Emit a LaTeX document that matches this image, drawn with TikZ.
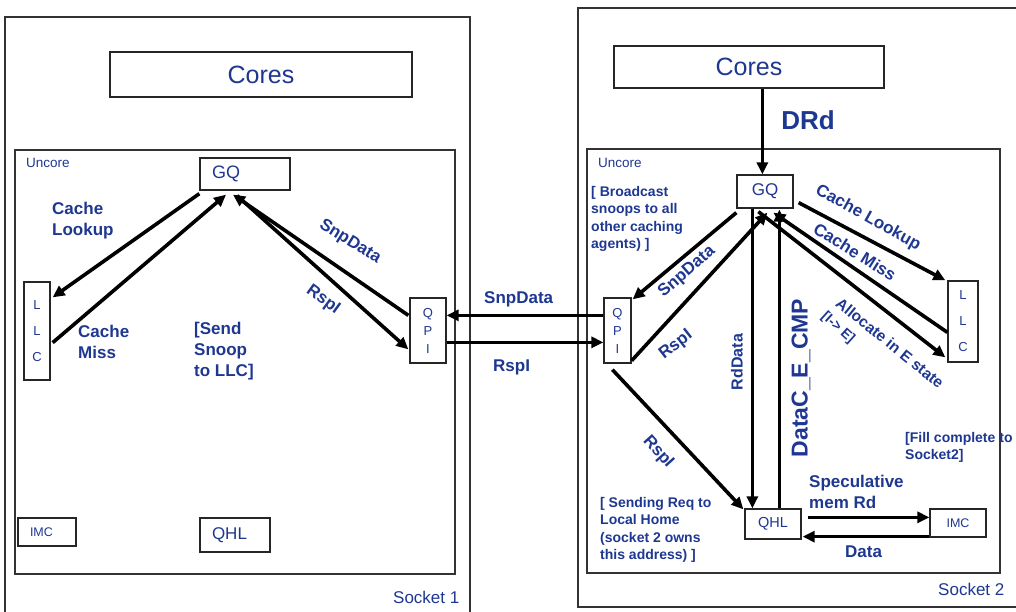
\documentclass[tikz,border=0pt]{standalone}
\usepackage{fontspec}
\setmainfont{Liberation Sans}
\usetikzlibrary{arrows.meta,calc}
\definecolor{lblue}{RGB}{30,55,145}
\begin{document}
\begin{tikzpicture}[x=1pt,y=-1pt,
  box/.style={draw=black!85, line width=1.3pt, fill=white, inner sep=0pt, text=lblue},
  region/.style={draw=black!80, line width=1.3pt},
  lab/.style={text=lblue, font=\fontsize{17}{21}\selectfont\bfseries, inner sep=0pt, align=left},
  note/.style={text=lblue, font=\fontsize{14}{17.5}\selectfont\bfseries, inner sep=0pt, align=left},
  plain/.style={text=lblue, inner sep=0pt},
  flow/.style={line width=3.6pt, -{Triangle[length=12pt,width=11pt]}},
  line/.style={line width=3.6pt}
]
\useasboundingbox (0,0) rectangle (1016,612);
% ---------- Socket 1 ----------
\draw[region] (5,640) -- (5,17) -- (470,17) -- (470,640);
\draw[region] (15,150) rectangle (455,574);
\node[box, minimum width=302pt, minimum height=45pt, font=\fontsize{25}{28}\selectfont] (cores1) at (261,74.5) {Cores};
\node[box, minimum width=90pt, minimum height=32pt, text width=66pt, align=left, font=\fontsize{18}{20}\selectfont] (gq1) at (245,174) {GQ};
\node[box, minimum width=26pt, minimum height=98pt, align=center, font=\fontsize{13}{26}\selectfont] (llc1) at (37,331) {L\\L\\C};
\node[box, minimum width=36pt, minimum height=65pt, align=center, font=\fontsize{13}{18}\selectfont] (qpi1) at (428,330.5) {Q\\P\\I};
\node[box, minimum width=58pt, minimum height=28pt, text width=34pt, align=left, font=\fontsize{12.5}{14}\selectfont] (imc1) at (47,532) {IMC};
\node[box, minimum width=70pt, minimum height=34pt, text width=46pt, align=left, font=\fontsize{17}{19}\selectfont] (qhl1) at (235,535) {QHL};
\node[plain, anchor=north west, font=\fontsize{13.5}{16}\selectfont] (unc1) at (26,158) {Uncore};
\node[plain, anchor=north west, font=\fontsize{17}{20}\selectfont] (sock1) at (393,591) {Socket 1};

% ---------- Socket 2 ----------
\draw[region] (1030,8) -- (578,8) -- (578,607) -- (1030,607);
\draw[region] (587,149) rectangle (1000,573);
\node[box, minimum width=270pt, minimum height=42pt, font=\fontsize{25}{28}\selectfont] (cores2) at (749,67) {Cores};
\node[box, minimum width=56pt, minimum height=33pt, font=\fontsize{17}{19}\selectfont] (gq2) at (765,191.5) {GQ};
\node[box, minimum width=27pt, minimum height=65pt, align=center, font=\fontsize{13}{18}\selectfont] (qpi2) at (617.5,330.5) {Q\\P\\I};
\node[box, minimum width=30pt, minimum height=81pt, align=center, font=\fontsize{13}{26}\selectfont] (llc2) at (963,321.5) {L\\L\\C};
\node[box, minimum width=56pt, minimum height=30pt, font=\fontsize{14.5}{16}\selectfont] (qhl2) at (773,524) {QHL};
\node[box, minimum width=56pt, minimum height=28pt, font=\fontsize{12.5}{14}\selectfont] (imc2) at (958,523) {IMC};
\node[plain, anchor=north west, font=\fontsize{13.5}{16}\selectfont] (unc2) at (598,158) {Uncore};
\node[plain, anchor=north west, font=\fontsize{17}{20}\selectfont] (sock2) at (938,583) {Socket 2};

% ---------- Socket 1 arrows ----------
\draw[flow] ($(gq1.south west)+(0,3)$) -- ($(llc1.north east)+(2,16)$);
\draw[flow] ($(llc1.south east)+(2,-38)$) -- ($(gq1.south)+(-19,4)$);
\draw[flow] ($(qpi1.north west)+(-1,18)$) -- ($(gq1.south)+(-12,4)$);
\draw[flow] ($(gq1.south)+(-8,5)$) -- ($(qpi1.north west)+(-1,52)$);

% ---------- Link arrows ----------
\draw[flow] ($(qpi2.north west)+(0,18)$) -- ($(qpi1.north east)+(0,18)$);
\draw[flow] ($(qpi1.north east)+(0,45)$) -- ($(qpi2.north west)+(0,45)$);

% ---------- Socket 2 arrows ----------
\draw[flow] ($(cores2.south west)+(149,0)$) -- ($(gq2.north west)+(26,0)$);
\draw[flow] ($(gq2.south west)+(0,4)$) -- ($(qpi2.north east)+(1,2)$);
\draw[flow] ($(qpi2.south east)+(0,-3)$) -- ($(gq2.south west)+(31,4)$);
\draw[flow] ($(gq2.south west)+(16,0)$) -- ($(qhl2.north west)+(8,0)$);
\draw[flow] ($(qhl2.north west)+(35,0)$) -- ($(gq2.south west)+(43,1)$);
\draw[flow] ($(gq2.south east)+(5,-6)$) -- ($(llc2.north west)+(-2,0)$);
\draw[flow] ($(llc2.north west)+(0,52)$) -- ($(gq2.south west)+(37,4)$);
\draw[flow] ($(gq2.south west)+(22,3)$) -- ($(llc2.north west)+(-2,77)$);
\draw[flow] ($(qpi2.south west)+(9,6)$) -- ($(qhl2.north west)+(-1,1)$);
\draw[flow] ($(qhl2.north east)+(6,9)$) -- ($(imc2.north west)+(0,9)$);
\draw[flow] ($(imc2.south west)+(0,-1)$) -- ($(qhl2.south east)+(1,-3)$);

% ---------- Socket 1 labels ----------
\node[lab, anchor=north west] (l1) at (52,202) {Cache\\Lookup};
\node[lab, anchor=north west] (l2) at (78,325) {Cache\\Miss};
\node[lab, anchor=north west] (l3) at (194,322) {[Send\\Snoop\\to LLC]};
\node[lab, rotate=-32] (l4) at (350,242) {SnpData};
\node[lab, rotate=-36] (l5) at (323,300) {RspI};

% ---------- Link labels ----------
\node[lab, anchor=north west] (l6) at (484,291) {SnpData};
\node[lab, anchor=north west] (l7) at (493,360) {RspI};

% ---------- Socket 2 labels ----------
\node[lab, font=\fontsize{26}{30}\selectfont\bfseries] (drd) at (808,120) {DRd};
\node[note, anchor=north west] (n1) at (591,186) {[ Broadcast\\snoops to all\\other caching\\agents) ]};
\node[lab, rotate=41] (l8) at (687,272) {SnpData};
\node[lab, rotate=38] (l9) at (676,345) {RspI};
\node[lab, rotate=90, font=\fontsize{16}{18}\selectfont\bfseries] (l10) at (737,362) {RdData};
\node[lab, rotate=90, font=\fontsize{23}{26}\selectfont\bfseries] (l11) at (801,378) {DataC\_E\_CMP};
\node[lab, rotate=-29] (l12) at (868,218) {Cache Lookup};
\node[lab, rotate=-32] (l13) at (855,252) {Cache Miss};
\node[lab, rotate=-39, font=\fontsize{15.5}{18}\selectfont\bfseries] (l14) at (890,343) {Allocate in E state};
\node[lab, rotate=-42, font=\fontsize{14}{16}\selectfont\bfseries] (l15) at (838,328) {[I-> E]};
\node[lab, rotate=-48] (l16) at (658,452) {RspI};
\node[note, anchor=north west] (n2) at (600,497) {[ Sending Req to\\Local Home\\(socket 2 owns\\this address) ]};
\node[note, anchor=north west] (n3) at (905,432) {[Fill complete to\\Socket2]};
\node[lab, anchor=north west] (l17) at (809,475) {Speculative\\mem Rd};
\node[lab, anchor=north west] (l18) at (845,546) {Data};
\end{tikzpicture}
\end{document}
